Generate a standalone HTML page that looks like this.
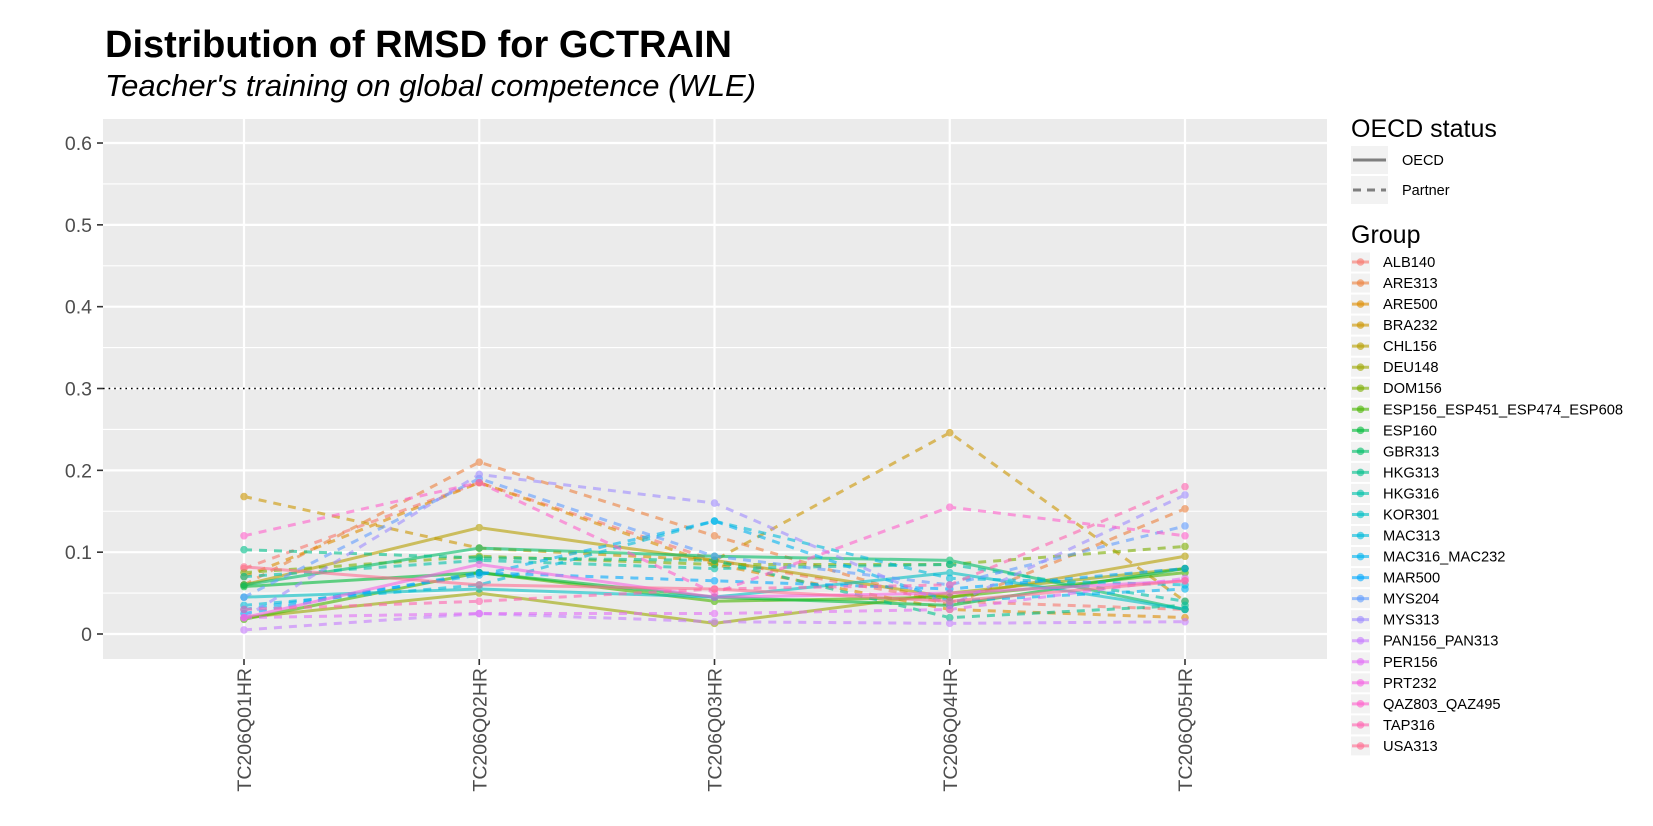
<!DOCTYPE html>
<html><head><meta charset="utf-8">
<style>
html,body{margin:0;padding:0;background:#fff;}
svg{display:block;font-family:"Liberation Sans",Arial,sans-serif;}
</style></head>
<body>
<svg id="chart" width="1653" height="826" viewBox="0 0 1653 826">
<text x="105" y="57" font-size="38" font-weight="bold" fill="#000">Distribution of RMSD for GCTRAIN</text>
<text x="105" y="96" font-size="31" font-style="italic" fill="#000">Teacher's training on global competence (WLE)</text>
<rect x="103" y="119" width="1224" height="540" fill="#ebebeb"/>
<g id="grid"></g>
<g id="axes"></g>
<g id="series"></g>
<g id="legend"></g>
</svg>
<script>
const categories = ["TC206Q01HR","TC206Q02HR","TC206Q03HR","TC206Q04HR","TC206Q05HR"];
const yTicks = [0,0.1,0.2,0.3,0.4,0.5,0.6];
const yTickLabels = ["0","0.1","0.2","0.3","0.4","0.5","0.6"];
const threshold = 0.3;
const groups = ["ALB140","ARE313","ARE500","BRA232","CHL156","DEU148","DOM156","ESP156_ESP451_ESP474_ESP608","ESP160","GBR313","HKG313","HKG316","KOR301","MAC313","MAC316_MAC232","MAR500","MYS204","MYS313","PAN156_PAN313","PER156","PRT232","QAZ803_QAZ495","TAP316","USA313"];
const oecd = [false,false,false,false,true,true,false,true,true,true,false,false,true,false,false,false,false,false,false,false,true,false,false,true];
const vALB140 = [0.080,0.185,0.090,0.040,0.030];
const vARE313 = [0.060,0.210,0.120,0.035,0.153];
const vARE500 = [0.070,0.185,0.085,0.030,0.020];
const vBRA232 = [0.168,0.105,0.090,0.246,0.040];
const vCHL156 = [0.060,0.130,0.090,0.045,0.095];
const vDEU148 = [0.020,0.050,0.013,0.050,0.080];
const vDOM156 = [0.075,0.095,0.085,0.085,0.107];
const vESP156 = [0.018,0.075,0.040,0.045,0.075];
const vESP160 = [0.058,0.075,0.045,0.035,0.080];
const vGBR313 = [0.060,0.105,0.095,0.090,0.030];
const vHKG313 = [0.103,0.093,0.090,0.020,0.035];
const vHKG316 = [0.070,0.090,0.080,0.085,0.040];
const vKOR301 = [0.045,0.055,0.045,0.075,0.030];
const vMAC313 = [0.035,0.060,0.138,0.068,0.060];
const vMAC316 = [0.030,0.072,0.138,0.040,0.055];
const vMAR500 = [0.025,0.075,0.065,0.055,0.080];
const vMYS204 = [0.045,0.190,0.095,0.060,0.132];
const vMYS313 = [0.020,0.195,0.160,0.035,0.170];
const vPAN156 = [0.005,0.025,0.015,0.013,0.015];
const vPER156 = [0.020,0.025,0.025,0.030,0.068];
const vPRT232 = [0.020,0.085,0.045,0.050,0.065];
const vQAZ803 = [0.120,0.185,0.050,0.155,0.120];
const vTAP316 = [0.030,0.040,0.055,0.060,0.180];
const vUSA313 = [0.082,0.060,0.055,0.040,0.065];
const seriesValues = [vALB140,vARE313,vARE500,vBRA232,vCHL156,vDEU148,vDOM156,vESP156,vESP160,vGBR313,vHKG313,vHKG316,vKOR301,vMAC313,vMAC316,vMAR500,vMYS204,vMYS313,vPAN156,vPER156,vPRT232,vQAZ803,vTAP316,vUSA313];

const NS="http://www.w3.org/2000/svg";
const P={left:103,right:1327,top:119,bottom:659};
function xPos(i){return 244 + i*235.25;}
function yPos(v){return 634 - v*818.3;}
function mk(tag,attrs,parent){const e=document.createElementNS(NS,tag);for(const k in attrs)e.setAttribute(k,attrs[k]);parent.appendChild(e);return e;}
function hcl(h,c,l){
  const hr=h*Math.PI/180,u=c*Math.cos(hr),v=c*Math.sin(hr);
  const Y=Math.pow((l+16)/116,3);const un=0.1978398,vn=0.4683363;
  const up=u/(13*l)+un,vp=v/(13*l)+vn;
  const X=Y*9*up/(4*vp),Z=Y*(12-3*up-20*vp)/(4*vp);
  let r=3.240479*X-1.53715*Y-0.498535*Z,g=-0.969256*X+1.875992*Y+0.041556*Z,b=0.055648*X-0.204043*Y+1.057311*Z;
  const gm=x=>{x=x<=0.0031308?12.92*x:1.055*Math.pow(x,1/2.4)-0.055;return Math.round(Math.max(0,Math.min(1,x))*255);};
  return "rgb("+gm(r)+","+gm(g)+","+gm(b)+")";
}
const grid=document.getElementById('grid');
for(let k=0;k<yTicks.length-1;k++){
  const ln=mk('line',{x1:P.left,x2:P.right,y1:yPos((yTicks[k]+yTicks[k+1])/2),y2:yPos((yTicks[k]+yTicks[k+1])/2),stroke:'#fff','stroke-width':1.1},grid);
  
  
}
yTicks.forEach(function(t){
  const ln=mk('line',{x1:P.left,x2:P.right,y1:yPos(t),y2:yPos(t),stroke:'#fff','stroke-width':2.2},grid);
  
  
});
categories.forEach(function(c,i){
  const ln=mk('line',{x1:xPos(i),x2:xPos(i),y1:P.top,y2:P.bottom,stroke:'#fff','stroke-width':2.2},grid);
  
  
});
const th=mk('line',{x1:P.left,x2:P.right,y1:yPos(threshold),y2:yPos(threshold),stroke:'#000','stroke-width':1.6,'stroke-dasharray':'1.6,4'},grid);


const axes=document.getElementById('axes');
yTicks.forEach(function(t,k){
  const tk=mk('line',{x1:97,x2:103,y1:yPos(t),y2:yPos(t),stroke:'#333','stroke-width':1.6},axes);
  
  
  const tx=mk('text',{x:92,y:yPos(t)+7,'text-anchor':'end','font-size':19.5,fill:'#4d4d4d'},axes);
  tx.textContent=yTickLabels[k];
  
  
});
categories.forEach(function(c,i){
  const tk=mk('line',{x1:xPos(i),x2:xPos(i),y1:659,y2:665,stroke:'#333','stroke-width':1.6},axes);
  
  
  const tx=mk('text',{x:0,y:0,'text-anchor':'end','font-size':19.5,fill:'#4d4d4d',transform:'translate('+(xPos(i)+7)+',668) rotate(-90)'},axes);
  tx.textContent=c;
  
  
});
const colors=groups.map(function(g,i){return hcl(15+i*15,100,65);});
const sg=document.getElementById('series');
seriesValues.forEach(function(vals,gi){
  const g=mk('g',{opacity:0.6},sg);
  
  
  const pts=vals.map(function(v,i){return xPos(i)+','+yPos(v);}).join(' ');
  const pl=mk('polyline',{points:pts,fill:'none',stroke:colors[gi],'stroke-width':3,'stroke-dasharray':oecd[gi]?'none':'8,7'},g);
  
  
  vals.forEach(function(v,i){
    const c=mk('circle',{cx:xPos(i),cy:yPos(v),r:3.8,fill:colors[gi]},g);
    
    
  });
});
const lg=document.getElementById('legend');
const t1=mk('text',{x:1351,y:137,'font-size':25,fill:'#000'},lg);
t1.textContent='OECD status';


[['OECD','none',160],['Partner','8,6',190]].forEach(function(e){
  const r=mk('rect',{x:1351,y:e[2]-14,width:37,height:28,fill:'#f2f2f2'},lg);
  
  
  const l=mk('line',{x1:1353,x2:1386,y1:e[2],y2:e[2],stroke:'#7f7f7f','stroke-width':3,'stroke-dasharray':e[1]},lg);
  
  
  const t=mk('text',{x:1402,y:e[2]+5,'font-size':14.5,fill:'#000'},lg);
  t.textContent=e[0];
  
  
});
const t2=mk('text',{x:1351,y:243,'font-size':25,fill:'#000'},lg);
t2.textContent='Group';


groups.forEach(function(g,i){
  const cy=262+i*21.04;
  const r=mk('rect',{x:1351,y:cy-9.5,width:19,height:19,fill:'#f2f2f2'},lg);
  
  
  const l=mk('line',{x1:1352,x2:1369,y1:cy,y2:cy,stroke:colors[i],'stroke-width':3,opacity:0.6},lg);
  
  
  const c=mk('circle',{cx:1360.5,cy:cy,r:3.8,fill:colors[i],opacity:0.6},lg);
  
  
  const t=mk('text',{x:1383,y:cy+5,'font-size':14.7,fill:'#000'},lg);
  t.textContent=g;
  
  
});
</script>
</body></html>
